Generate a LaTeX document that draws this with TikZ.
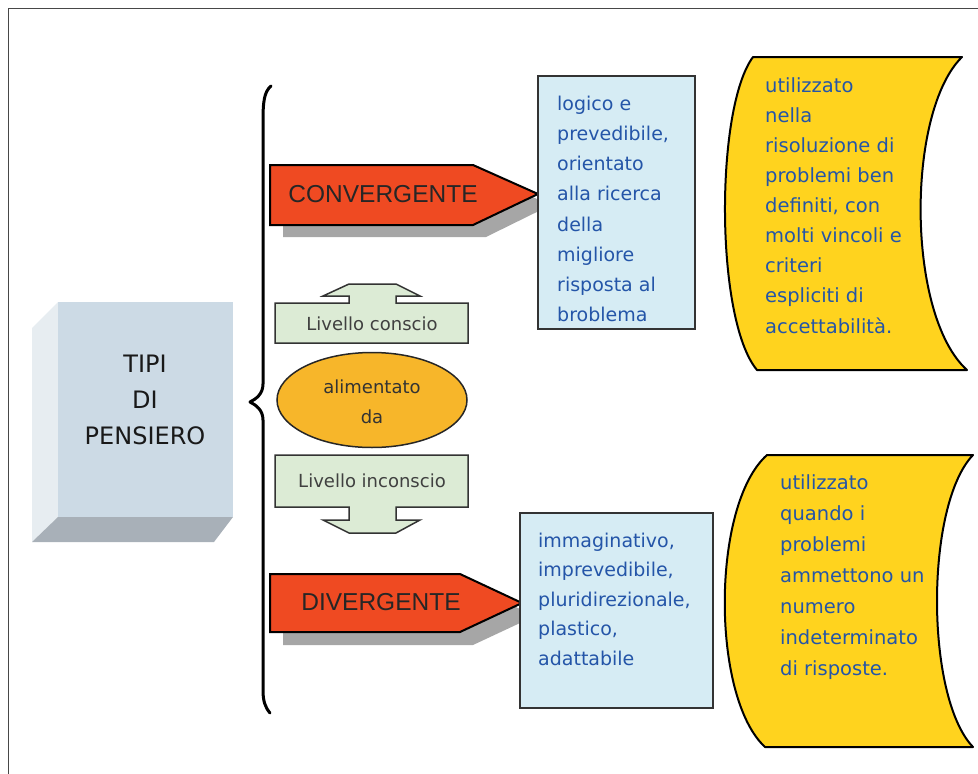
\documentclass[tikz,border=0pt]{standalone}
\usepackage{fontspec}
\setmainfont{DejaVu Sans}
\newfontfamily\capsfont{Liberation Sans}
\usetikzlibrary{shapes.geometric}

\definecolor{frameline}{HTML}{474747}
\definecolor{facefront}{HTML}{CCDAE5}
\definecolor{faceside}{HTML}{E7EDF1}
\definecolor{facebottom}{HTML}{A8B0B8}
\definecolor{arrowred}{HTML}{EF4A22}
\definecolor{shadowgray}{HTML}{A6A6A6}
\definecolor{levelgreen}{HTML}{DCEBD5}
\definecolor{ovalorange}{HTML}{F7B62A}
\definecolor{boxblue}{HTML}{D6ECF4}
\definecolor{scrollyellow}{HTML}{FFD31E}
\definecolor{txtblue}{HTML}{2455A8}

\tikzset{
  face/.style={draw=none},
  redarrow/.style={fill=arrowred, draw=black, line width=2pt, line join=miter},
  arrowshadow/.style={fill=shadowgray, draw=none},
  levelbox/.style={fill=levelgreen, draw=black!80, line width=1.5pt, line join=miter},
  infobox/.style={fill=boxblue, draw=black!80, line width=2pt},
  scroll/.style={fill=scrollyellow, draw=black, line width=2pt, line join=round},
  bigcaps/.style={font=\capsfont\fontsize{24.5}{30}\selectfont, text=black!85, inner sep=0pt},
  titletxt/.style={font=\fontsize{24}{36}\selectfont, align=center, inner sep=0pt, text=black!90},
  leveltxt/.style={font=\fontsize{18}{22}\selectfont, text=black!75, inner sep=0pt},
  bluetxt/.style={anchor=north west, inner sep=0pt, align=left, text=txtblue,
                  font=\fontsize{19}{30.2}\selectfont},
}

\begin{document}
\begin{tikzpicture}[x=1pt,y=-1pt]
\useasboundingbox (0,0) rectangle (978,774);

% outer frame (open to the right and bottom)
\draw[frameline, line width=1.5pt] (8.5,774) -- (8.5,8.5) -- (978,8.5);

% 3D block "TIPI DI PENSIERO"
\fill[faceside] (32,328) -- (58,302) -- (58,517) -- (32,542) -- cycle;
\fill[facebottom] (58,517) -- (233,517) -- (214,542) -- (32,542) -- cycle;
\fill[facefront] (58,302) rectangle (233,517);
\node[titletxt] (tipi) at (145,400) {TIPI\\DI\\PENSIERO};

% curly brace
\draw[line width=3pt, line cap=round, line join=round]
  (271,86) .. controls (264,92) and (263,102) .. (263,122)
  -- (263,384) .. controls (263,394) and (256,399) .. (250,402)
  .. controls (256,405) and (263,410) .. (263,420)
  -- (263,690) .. controls (263,701) and (265,707) .. (270,713);

% CONVERGENTE arrow with shadow
\fill[arrowshadow] (283,177) -- (486,177) -- (551,205) -- (486,237) -- (283,237) -- cycle;
\draw[redarrow] (270,165) -- (473,165) -- (538,194) -- (473,225) -- (270,225) -- cycle;
\node[bigcaps] (conv) at (383,194) {CONVERGENTE};

% DIVERGENTE arrow with shadow
\fill[arrowshadow] (283,587) -- (473,587) -- (535,616) -- (473,645) -- (283,645) -- cycle;
\draw[redarrow] (270,574) -- (460,574) -- (522,603) -- (460,632) -- (270,632) -- cycle;
\node[bigcaps] (div) at (381,602) {DIVERGENTE};

% "Livello conscio" up-arrow callout
\draw[levelbox] (275,303) -- (349,303) -- (349,296) -- (323,296) -- (349,284)
  -- (396,284) -- (420,296) -- (396,296) -- (396,303) -- (468,303)
  -- (468,343) -- (275,343) -- cycle;
\node[leveltxt] (conscio) at (372,324) {Livello conscio};

% "alimentato da" oval
\node[ellipse, fill=ovalorange, draw=black!85, line width=1.5pt,
      minimum width=190pt, minimum height=95pt, inner sep=0pt] (alim) at (372,400) {};
\node[font=\fontsize{18}{30}\selectfont, align=center, text=black!80, inner sep=0pt]
  (alimtxt) at (372,402) {alimentato\\da};

% "Livello inconscio" down-arrow callout
\draw[levelbox] (275,455) -- (468,455) -- (468,507) -- (396,507) -- (396,520)
  -- (420,520) -- (396,533) -- (349,533) -- (323,520) -- (349,520)
  -- (349,507) -- (275,507) -- cycle;
\node[leveltxt] (inconscio) at (372,481) {Livello inconscio};

% description boxes
\draw[infobox] (538,76) rectangle (695,329);
\node[bluetxt] (conv desc) at (557,95) {\rule{0pt}{15pt}logico e\\prevedibile,\\orientato\\alla ricerca\\della\\migliore\\risposta al\\broblema};

\draw[infobox] (520,513) rectangle (713,708);
\node[bluetxt, font=\fontsize{19}{29.5}\selectfont] (div desc) at (538,532)
  {\rule{0pt}{15pt}immaginativo,\\imprevedibile,\\pluridirezionale,\\plastico,\\adattabile};

% usage scrolls
\draw[scroll] (753,57) -- (962,57) .. controls (906,112) and (906,315) .. (967,370)
  -- (757,370) .. controls (715,320) and (715,108) .. (753,57) -- cycle;
\node[bluetxt, font=\fontsize{19.5}{30.1}\selectfont] (conv use) at (765,77)
  {\rule{0pt}{15pt}utilizzato\\nella\\risoluzione di\\problemi ben\\definiti, con\\molti vincoli e\\criteri\\espliciti di\\accettabilità.};

\draw[scroll] (767,455) -- (973,455) .. controls (925,505) and (925,697) .. (973,747)
  -- (765,747) .. controls (711,697) and (711,505) .. (767,455) -- cycle;
\node[bluetxt, font=\fontsize{19.5}{31}\selectfont] (div use) at (780,474)
  {\rule{0pt}{15pt}utilizzato\\quando i\\problemi\\ammettono un\\numero\\indeterminato\\di risposte.};

\end{tikzpicture}
\end{document}
